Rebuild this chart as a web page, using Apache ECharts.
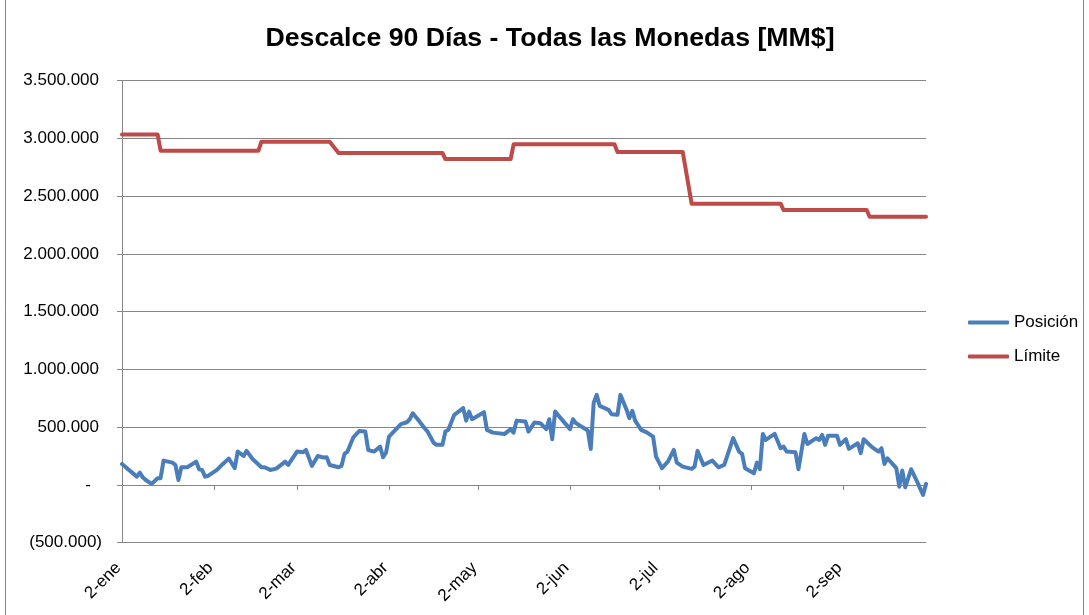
<!DOCTYPE html>
<html>
<head>
<meta charset="utf-8">
<script src="https://cdn.jsdelivr.net/npm/echarts@6/dist/echarts.min.js"></script>
<style>
  html, body { margin: 0; padding: 0; background: #fff; }
  #chart { width: 1089px; height: 615px; }
</style>
</head>
<body>
<div id="chart"></div>
<script>
const meses = ['ene', 'feb', 'mar', 'abr', 'may', 'jun', 'jul', 'ago', 'sep']

// Posición [MM-DD, MM$]
const posicion = [
  ['01-02', 182000], ['01-07', 72000], ['01-08', 107000], ['01-09', 66000], ['01-10', 43000],
  ['01-12', 9000], ['01-14', 58000], ['01-15', 58000], ['01-16', 211000], ['01-19', 193000],
  ['01-20', 173000], ['01-21', 43000], ['01-22', 153000], ['01-24', 153000], ['01-27', 202000],
  ['01-28', 136000], ['01-29', 130000], ['01-30', 72000], ['01-31', 78000], ['02-03', 130000],
  ['02-05', 182000], ['02-07', 228000], ['02-08', 188000], ['02-09', 145000], ['02-10', 289000],
  ['02-12', 251000], ['02-13', 295000], ['02-15', 225000], ['02-18', 153000], ['02-19', 153000],
  ['02-21', 130000], ['02-23', 141000], ['02-26', 202000], ['02-27', 173000], ['03-02', 289000],
  ['03-04', 283000], ['03-05', 303000], ['03-07', 165000], ['03-09', 251000], ['03-11', 237000],
  ['03-12', 240000], ['03-13', 173000], ['03-16', 153000], ['03-17', 165000], ['03-18', 269000],
  ['03-19', 289000], ['03-21', 413000], ['03-23', 468000], ['03-25', 462000], ['03-26', 303000],
  ['03-28', 289000], ['03-30', 332000], ['03-31', 240000], ['04-01', 280000], ['04-02', 419000],
  ['04-06', 526000], ['04-08', 543000], ['04-09', 569000], ['04-10', 621000], ['04-12', 557000],
  ['04-14', 491000], ['04-15', 462000], ['04-17', 367000], ['04-18', 347000], ['04-20', 347000],
  ['04-21', 462000], ['04-22', 477000], ['04-24', 607000], ['04-27', 665000], ['04-28', 557000],
  ['04-29', 635000], ['04-30', 569000], ['05-04', 630000], ['05-05', 477000], ['05-07', 453000],
  ['05-11', 442000], ['05-13', 483000], ['05-14', 453000], ['05-15', 557000], ['05-18', 549000],
  ['05-19', 462000], ['05-21', 540000], ['05-23', 535000], ['05-25', 483000], ['05-26', 569000],
  ['05-27', 396000], ['05-28', 635000], ['06-02', 483000], ['06-03', 569000], ['06-04', 535000],
  ['06-08', 471000], ['06-09', 312000], ['06-10', 713000], ['06-11', 780000], ['06-12', 685000],
  ['06-15', 650000], ['06-16', 613000], ['06-18', 607000], ['06-19', 780000], ['06-21', 656000],
  ['06-22', 578000], ['06-23', 641000], ['06-24', 555000], ['06-26', 477000], ['06-28', 453000],
  ['06-30', 419000], ['07-01', 245000], ['07-03', 145000], ['07-05', 202000], ['07-07', 303000],
  ['07-08', 193000], ['07-10', 159000], ['07-13', 139000], ['07-14', 159000], ['07-15', 295000],
  ['07-17', 173000], ['07-20', 211000], ['07-22', 153000], ['07-24', 173000], ['07-27', 405000],
  ['07-29', 289000], ['07-30', 269000], ['07-31', 145000], ['08-03', 101000], ['08-04', 193000],
  ['08-05', 136000], ['08-06', 442000], ['08-07', 390000], ['08-10', 442000], ['08-12', 318000],
  ['08-13', 332000], ['08-14', 289000], ['08-17', 283000], ['08-18', 136000], ['08-20', 442000],
  ['08-21', 355000], ['08-24', 405000], ['08-25', 390000], ['08-26', 433000], ['08-27', 347000],
  ['08-28', 427000], ['08-31', 427000], ['09-01', 347000], ['09-03', 396000], ['09-04', 312000],
  ['09-07', 361000], ['09-08', 275000], ['09-09', 396000], ['09-12', 323000], ['09-14', 289000],
  ['09-15', 318000], ['09-16', 182000], ['09-17', 231000], ['09-20', 145000], ['09-21', -15000],
  ['09-22', 124000], ['09-23', -20000], ['09-25', 136000], ['09-27', 29000], ['09-29', -87000],
  ['09-30', 9000]
]

// Límite [MM-DD, MM$]
const limite = [
  ['01-02', 3035000], ['01-14', 3035000], ['01-15', 2894000], ['02-17', 2894000],
  ['02-18', 2972000], ['03-13', 2972000], ['03-16', 2874000], ['04-20', 2874000],
  ['04-21', 2822000], ['05-13', 2822000], ['05-14', 2949000], ['06-17', 2949000],
  ['06-18', 2883000], ['07-10', 2883000], ['07-13', 2435000], ['08-12', 2435000],
  ['08-13', 2380000], ['09-10', 2380000], ['09-11', 2322000], ['09-30', 2322000]
]

// eje de fechas: un día por categoría, del 2-ene al 30-sep
const dias = []
for (let t = Date.UTC(2013, 0, 2); t <= Date.UTC(2013, 8, 30); t += 86400000) {
  const d = new Date(t)
  dias.push(String(d.getUTCMonth() + 1).padStart(2, '0') + '-' + String(d.getUTCDate()).padStart(2, '0'))
}

const FONT = '"Liberation Sans", Arial, sans-serif'
const GRAY = '#868686'

function miles(v) {
  return Math.abs(v).toString().replace(/\B(?=(\d{3})+(?!\d))/g, '.')
}

const chart = echarts.init(document.getElementById('chart'))

chart.setOption({
  animation: false,
  backgroundColor: '#fff',
  textStyle: { fontFamily: FONT },
  title: {
    text: 'Descalce 90 Días - Todas las Monedas [MM$]',
    left: 545,
    textAlign: 'center',
    top: 20,
    textStyle: { fontFamily: FONT, fontSize: 26.7, fontWeight: 'bold', color: '#000' }
  },
  legend: {
    orient: 'vertical',
    left: 968,
    top: 314,
    padding: 0,
    itemWidth: 41,
    itemHeight: 4,
    itemGap: 17,
    icon: 'roundRect',
    textStyle: { fontFamily: FONT, fontSize: 17, color: '#000' },
    data: ['Posición', 'Límite']
  },
  grid: { left: 122, right: 163, top: 80.7, bottom: 72.3, containLabel: false, outerBoundsMode: 'none' },
  xAxis: {
    type: 'category',
    data: dias,
    boundaryGap: false,
    axisLine: { onZero: true, lineStyle: { color: GRAY, width: 1 } },
    axisTick: {
      show: true,
      length: 5,
      interval: (i, v) => v.endsWith('-02'),
      lineStyle: { color: GRAY }
    },
    axisLabel: {
      interval: (i, v) => v.endsWith('-02'),
      rotate: 45,
      margin: 19,
      padding: [0, 5, 0, 0],
      fontFamily: FONT,
      fontSize: 17,
      color: '#000',
      formatter: (v) => parseInt(v.slice(3), 10) + '-' + meses[parseInt(v.slice(0, 2), 10) - 1]
    },
    splitLine: { show: false }
  },
  yAxis: {
    type: 'value',
    min: -500000,
    max: 3500000,
    interval: 500000,
    axisLine: { show: true, lineStyle: { color: GRAY, width: 1 } },
    axisTick: { show: true, length: 5, lineStyle: { color: GRAY } },
    splitLine: { show: true, lineStyle: { color: GRAY, width: 1 } },
    axisLabel: {
      margin: 20,
      fontFamily: FONT,
      fontSize: 17,
      color: '#000',
      formatter: (v) => {
        if (v === 0) return '{z|-}'
        if (v < 0) return '(' + miles(v) + ')'
        return '{p|' + miles(v) + '}'
      },
      rich: {
        z: { fontFamily: FONT, fontSize: 17, color: '#000', padding: [0, 11, 0, 0] },
        p: { fontFamily: FONT, fontSize: 17, color: '#000', padding: [0, 3, 0, 0] }
      }
    }
  },
  graphic: [
    {
      type: 'rect',
      silent: true,
      shape: { x: 5.5, y: -2, width: 1078, height: 620 },
      style: { fill: 'none', stroke: GRAY, lineWidth: 1 }
    }
  ],
  series: [
    {
      name: 'Posición',
      type: 'line',
      data: posicion,
      symbol: 'none',
      color: '#4A7EBB',
      lineStyle: { color: '#4A7EBB', width: 4, join: 'round', cap: 'round' }
    },
    {
      name: 'Límite',
      type: 'line',
      data: limite,
      symbol: 'none',
      color: '#BE4B48',
      lineStyle: { color: '#BE4B48', width: 4, join: 'round', cap: 'round' }
    }
  ]
})
</script>
</body>
</html>
